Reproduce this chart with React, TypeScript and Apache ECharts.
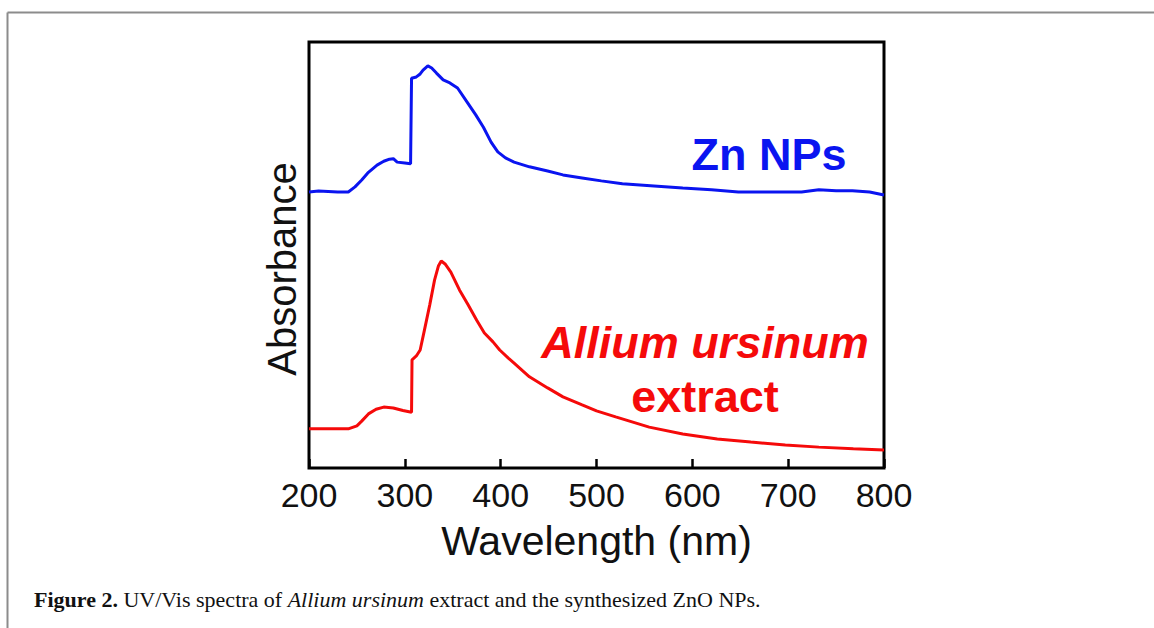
import React, { useEffect, useRef } from "react";
import * as echarts from "echarts";

// Zn NPs spectrum (wavelength nm, absorbance a.u.)
const znWavelength = [200, 210, 220, 230, 241, 248, 255, 262, 271, 278, 284, 288, 292, 300, 306, 307, 312, 316, 319, 324, 328, 333, 340, 347, 355, 365, 374, 382, 390, 397, 405, 414, 430, 449, 465, 485, 505, 527, 560, 590, 620, 648, 680, 714, 732, 750, 767, 785, 800];
const znAbsorbance = [0.648, 0.650, 0.649, 0.648, 0.648, 0.660, 0.676, 0.694, 0.711, 0.720, 0.725, 0.726, 0.718, 0.716, 0.714, 0.915, 0.918, 0.925, 0.934, 0.944, 0.939, 0.927, 0.911, 0.904, 0.892, 0.859, 0.829, 0.800, 0.765, 0.742, 0.728, 0.718, 0.707, 0.697, 0.688, 0.681, 0.674, 0.667, 0.662, 0.657, 0.653, 0.648, 0.648, 0.648, 0.653, 0.651, 0.651, 0.648, 0.641];

// Allium ursinum extract spectrum
const extractWavelength = [200, 220, 241, 250, 255, 262, 270, 278, 288, 298, 307, 307.5, 312, 316, 320, 326, 331, 335, 338, 342, 348, 357, 366, 375, 383, 392, 399, 408, 414, 430, 449, 465, 485, 500, 520, 555, 590, 626, 661, 697, 732, 768, 800];
const extractAbsorbance = [0.092, 0.092, 0.092, 0.099, 0.110, 0.127, 0.138, 0.143, 0.141, 0.135, 0.131, 0.254, 0.263, 0.277, 0.319, 0.383, 0.441, 0.474, 0.486, 0.479, 0.460, 0.418, 0.383, 0.347, 0.317, 0.296, 0.277, 0.258, 0.246, 0.214, 0.188, 0.167, 0.148, 0.134, 0.120, 0.096, 0.080, 0.068, 0.061, 0.054, 0.049, 0.045, 0.042];

const xTicks = [200, 300, 400, 500, 600, 700, 800];

const SANS = "Liberation Sans, Arial, sans-serif";
const SERIF = "Liberation Serif, Times New Roman, serif";

export default function App() {
  const ref = useRef<HTMLDivElement>(null);
  useEffect(() => {
    if (!ref.current) return;
    const chart = echarts.init(ref.current, undefined, { renderer: "svg" });
    const zn = znWavelength.map((w, i) => [w, znAbsorbance[i]]);
    const ex = extractWavelength.map((w, i) => [w, extractAbsorbance[i]]);
    chart.setOption({
      animation: false,
      backgroundColor: "#fff",
      grid: {
        show: true,
        left: 309,
        right: 270,
        top: 42,
        bottom: 160,
        borderColor: "#000",
        borderWidth: 3,
        backgroundColor: "transparent",
      },
      xAxis: {
        type: "value",
        min: xTicks[0],
        max: xTicks[xTicks.length - 1],
        interval: 100,
        axisLine: { show: false },
        axisTick: { show: true, inside: true, length: 9, lineStyle: { color: "#000", width: 2.5 } },
        splitLine: { show: false },
        axisLabel: {
          fontSize: 34,
          color: "#111",
          fontFamily: SANS,
          margin: 10,
        },
        name: "Wavelength (nm)",
        nameLocation: "middle",
        nameGap: 52,
        nameTextStyle: { fontSize: 41, color: "#111", fontFamily: SANS },
      },
      yAxis: {
        type: "value",
        min: 0,
        max: 1,
        axisLine: { show: false },
        axisTick: { show: false },
        axisLabel: { show: false },
        splitLine: { show: false },
      },
      series: [
        {
          name: "Zn NPs",
          type: "line",
          data: zn,
          showSymbol: false,
          lineStyle: { color: "#0a14f0", width: 3 },
          itemStyle: { color: "#0a14f0" },
        },
        {
          name: "Allium ursinum extract",
          type: "line",
          data: ex,
          showSymbol: false,
          lineStyle: { color: "#f50a0a", width: 3 },
          itemStyle: { color: "#f50a0a" },
        },
      ],
      graphic: [
        { type: "line", shape: { x1: 7.5, y1: 12.5, x2: 1154, y2: 12.5 }, style: { stroke: "#8c8c8c", lineWidth: 2 } },
        { type: "line", shape: { x1: 7.5, y1: 12.5, x2: 7.5, y2: 628 }, style: { stroke: "#8c8c8c", lineWidth: 2 } },
        {
          type: "text",
          x: 282,
          y: 269,
          rotation: Math.PI / 2,
          style: {
            text: "Absorbance",
            fontSize: 40,
            fill: "#111",
            fontFamily: SANS,
            align: "center",
            verticalAlign: "middle",
          },
        },
        {
          type: "text",
          x: 769,
          y: 154,
          style: {
            text: "Zn NPs",
            fontSize: 45,
            fontWeight: "bold",
            fill: "#0a14f0",
            fontFamily: SANS,
            align: "center",
            verticalAlign: "middle",
          },
        },
        {
          type: "text",
          x: 705,
          y: 342,
          style: {
            text: "Allium ursinum",
            fontSize: 45,
            fontWeight: "bold",
            fontStyle: "italic",
            fill: "#f50a0a",
            fontFamily: SANS,
            align: "center",
            verticalAlign: "middle",
          },
        },
        {
          type: "text",
          x: 705,
          y: 396,
          style: {
            text: "extract",
            fontSize: 45,
            fontWeight: "bold",
            fill: "#f50a0a",
            fontFamily: SANS,
            align: "center",
            verticalAlign: "middle",
          },
        },
        {
          type: "text",
          x: 34,
          y: 599,
          style: {
            text: "{b|Figure 2.} {n|UV/Vis spectra of} {i|Allium ursinum} {n|extract and the synthesized ZnO NPs.}",
            fontSize: 22,
            fill: "#111",
            fontFamily: SERIF,
            verticalAlign: "middle",
            rich: {
              b: { fontSize: 22, fontWeight: "bold", fontFamily: SERIF, fill: "#111" },
              i: { fontSize: 22, fontStyle: "italic", fontFamily: SERIF, fill: "#111" },
              n: { fontSize: 22, fontFamily: SERIF, fill: "#111" },
            },
          },
        },
      ],
    });
    return () => chart.dispose();
  }, []);
  return (
    <div
      ref={ref}
      style={{ position: "absolute", left: 0, top: 0, width: 1154, height: 628 }}
    />
  );
}
